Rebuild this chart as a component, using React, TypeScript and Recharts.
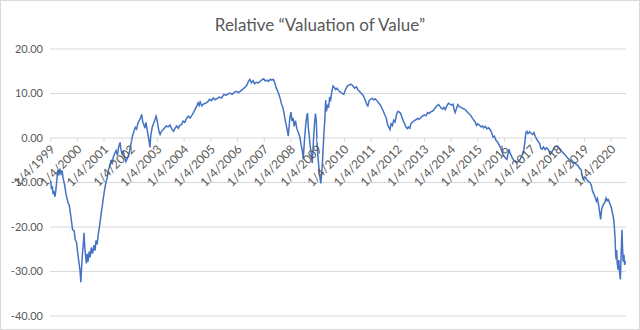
import { LineChart, Line, XAxis, YAxis, CartesianGrid } from "recharts";

const chartTitle = "Relative “Valuation of Value”";

const tickYears = [
  1999, 2000, 2001, 2002, 2003, 2004, 2005, 2006, 2007, 2008, 2009,
  2010, 2011, 2012, 2013, 2014, 2015, 2016, 2017, 2018, 2019, 2020,
];
const yTicks = [-40, -30, -20, -10, 0, 10, 20];

// [year fraction, value]
const dotcom = [
  [1999.0, -9.7], [1999.03, -11.5], [1999.06, -10.8], [1999.09, -12.6], [1999.12, -11.9],
  [1999.16, -13.2], [1999.19, -12.0], [1999.23, -9.5], [1999.27, -7.2], [1999.31, -8.4],
  [1999.35, -6.9], [1999.39, -8.0], [1999.43, -7.3], [1999.46, -8.8], [1999.52, -10.5],
  [1999.58, -12.8], [1999.65, -14.5], [1999.7, -15.2], [1999.76, -17.8], [1999.82, -20.6],
  [1999.88, -20.9], [1999.92, -22.8], [1999.97, -23.5], [2000.02, -26.2], [2000.06, -28.0],
  [2000.1, -29.8], [2000.13, -32.4], [2000.16, -29.0], [2000.19, -26.0], [2000.22, -24.0],
  [2000.25, -21.3], [2000.28, -24.8], [2000.31, -26.6], [2000.34, -28.2], [2000.37, -26.0],
  [2000.4, -27.8], [2000.44, -25.5], [2000.48, -26.8], [2000.52, -24.6], [2000.57, -26.0],
  [2000.62, -24.1], [2000.66, -25.3], [2000.7, -23.0], [2000.74, -23.9], [2000.78, -21.8],
  [2000.82, -20.2], [2000.86, -18.5], [2000.9, -16.6], [2000.94, -15.0], [2000.98, -13.2],
  [2001.02, -11.6], [2001.07, -10.0], [2001.12, -8.8], [2001.17, -7.0], [2001.22, -6.2],
  [2001.26, -4.9], [2001.3, -5.8], [2001.35, -4.2], [2001.4, -3.5], [2001.45, -2.8],
  [2001.5, -3.9], [2001.55, -1.9], [2001.6, -1.0], [2001.63, -2.5], [2001.67, -3.4],
  [2001.72, -3.0], [2001.77, -4.3], [2001.82, -5.3], [2001.88, -4.5], [2001.93, -3.6],
  [2001.97, -2.5],
];

const recovery = [
  [2002.02, -1.0], [2002.07, 0.6], [2002.12, 1.5], [2002.17, 2.4], [2002.22, 2.0],
  [2002.27, 3.4], [2002.32, 3.9], [2002.37, 4.6], [2002.41, 5.3], [2002.45, 3.6],
  [2002.49, 3.0], [2002.53, 2.2], [2002.57, 3.5], [2002.61, 2.0], [2002.65, 0.6],
  [2002.69, -0.8], [2002.72, -2.1], [2002.75, 0.6], [2002.8, 2.3], [2002.85, 3.2],
  [2002.9, 4.0], [2002.95, 4.9], [2002.98, 4.2], [2003.02, 2.8], [2003.06, 1.4],
  [2003.1, 0.8], [2003.15, 1.5], [2003.2, 1.8], [2003.27, 2.3], [2003.33, 2.7],
  [2003.4, 2.5], [2003.47, 2.9], [2003.53, 2.1], [2003.6, 1.5], [2003.67, 2.3],
  [2003.72, 2.7], [2003.78, 2.2], [2003.84, 2.9], [2003.9, 3.0], [2003.96, 3.8],
  [2004.02, 3.5], [2004.09, 4.4], [2004.15, 4.9], [2004.22, 4.5], [2004.3, 5.2],
  [2004.36, 5.8], [2004.42, 6.6], [2004.47, 7.1], [2004.52, 7.9], [2004.56, 7.3],
  [2004.6, 8.1], [2004.66, 7.2], [2004.72, 7.6], [2004.8, 7.8], [2004.88, 8.1],
  [2004.95, 8.7], [2005.02, 8.4], [2005.09, 9.0], [2005.16, 8.6], [2005.24, 8.9],
  [2005.32, 9.2], [2005.4, 9.0], [2005.49, 9.8], [2005.56, 9.6], [2005.64, 9.9],
  [2005.72, 10.1], [2005.8, 9.8], [2005.88, 10.3], [2005.96, 10.5], [2006.04, 10.2],
  [2006.12, 10.6], [2006.2, 11.0], [2006.28, 11.4], [2006.34, 11.8], [2006.4, 12.6],
  [2006.46, 13.2], [2006.52, 12.4], [2006.58, 12.9], [2006.64, 12.2], [2006.7, 12.5],
  [2006.78, 12.4], [2006.86, 12.8], [2006.92, 13.1], [2006.98, 13.3], [2007.04, 12.8],
  [2007.1, 13.0], [2007.16, 12.7], [2007.22, 13.2], [2007.28, 13.0], [2007.34, 13.2],
];

const crisis = [
  [2007.4, 12.3], [2007.45, 11.2], [2007.5, 10.6], [2007.55, 9.8], [2007.6, 8.8],
  [2007.65, 7.6], [2007.7, 6.8], [2007.74, 5.6], [2007.78, 4.2], [2007.82, 3.0],
  [2007.86, 1.8], [2007.9, 0.4], [2007.93, 2.5], [2007.96, 4.6], [2008.0, 5.8],
  [2008.04, 3.8], [2008.08, 4.5], [2008.12, 2.6], [2008.17, 3.9], [2008.22, 2.1],
  [2008.28, 1.2], [2008.33, 0.3], [2008.38, -1.5], [2008.43, -3.0], [2008.46, -4.8],
  [2008.5, -1.0], [2008.55, 2.8], [2008.59, 4.8], [2008.62, 5.6], [2008.65, 2.4],
  [2008.69, 0.2], [2008.72, -1.8], [2008.76, -3.5], [2008.8, -5.6], [2008.84, -1.0],
  [2008.88, 3.0], [2008.92, 5.5], [2008.95, 3.8], [2008.98, -1.5], [2009.02, -4.8],
  [2009.06, -7.5], [2009.09, -9.0], [2009.12, -10.2], [2009.15, -8.0], [2009.18, -5.5],
  [2009.21, -2.0], [2009.24, 1.5], [2009.27, 4.2], [2009.3, 8.5], [2009.33, 6.0],
  [2009.37, 7.5], [2009.41, 6.8], [2009.45, 9.2], [2009.49, 8.6], [2009.53, 10.4],
  [2009.58, 11.7], [2009.63, 11.3], [2009.68, 10.9], [2009.73, 11.2], [2009.79, 10.6],
  [2009.86, 10.3], [2009.92, 10.0], [2009.98, 9.8],
];

const postCrisis = [
  [2010.05, 11.0], [2010.12, 11.7], [2010.19, 11.9], [2010.25, 12.1], [2010.31, 11.8],
  [2010.38, 11.2], [2010.45, 11.5], [2010.52, 10.8], [2010.58, 10.4], [2010.64, 10.0],
  [2010.7, 9.6], [2010.75, 9.0], [2010.8, 8.2], [2010.85, 7.4], [2010.88, 7.2],
  [2010.93, 8.4], [2010.98, 8.7], [2011.04, 8.9], [2011.1, 8.6], [2011.16, 8.8],
  [2011.22, 8.4], [2011.28, 7.9], [2011.34, 7.5], [2011.4, 6.8], [2011.46, 6.0],
  [2011.52, 5.1], [2011.57, 4.5], [2011.62, 3.0], [2011.67, 2.4], [2011.71, 1.9],
  [2011.75, 3.2], [2011.8, 2.8], [2011.85, 4.0], [2011.9, 3.6], [2011.96, 5.4],
  [2012.01, 6.0], [2012.06, 5.8], [2012.11, 5.5], [2012.16, 4.6], [2012.21, 3.8],
  [2012.26, 3.2], [2012.31, 2.4], [2012.36, 2.1], [2012.4, 2.5], [2012.45, 2.2],
  [2012.5, 3.3], [2012.56, 3.6], [2012.62, 3.9], [2012.68, 4.1], [2012.74, 4.4],
  [2012.8, 4.2], [2012.86, 4.6], [2012.93, 4.9], [2013.0, 5.2], [2013.06, 5.0],
  [2013.12, 5.7], [2013.18, 5.5], [2013.24, 5.9], [2013.3, 6.0], [2013.36, 6.4],
  [2013.42, 6.9], [2013.48, 7.3], [2013.53, 7.5], [2013.58, 7.1], [2013.63, 6.7],
  [2013.68, 6.5], [2013.73, 6.9], [2013.78, 6.4], [2013.84, 7.2], [2013.9, 7.8],
  [2013.96, 7.6], [2014.02, 7.4], [2014.07, 7.6], [2014.12, 6.3], [2014.15, 5.7],
  [2014.2, 6.6], [2014.25, 7.5], [2014.3, 7.1], [2014.36, 6.9], [2014.42, 6.7],
  [2014.48, 6.5], [2014.53, 6.4], [2014.58, 6.0], [2014.64, 5.6], [2014.7, 5.3],
  [2014.75, 4.9], [2014.8, 4.4], [2014.85, 4.0], [2014.9, 3.6], [2014.95, 2.8],
  [2015.0, 3.2], [2015.06, 2.9], [2015.12, 2.5], [2015.18, 2.7], [2015.22, 2.3],
  [2015.28, 2.6], [2015.34, 2.1], [2015.4, 2.3], [2015.46, 1.9], [2015.52, 1.2],
  [2015.57, 0.2], [2015.62, 0.4], [2015.68, -0.5], [2015.74, -0.9], [2015.8, -1.6],
  [2015.85, -2.2], [2015.9, -3.0], [2015.95, -3.8],
];

const recent = [
  [2016.0, -4.2], [2016.05, -4.6], [2016.09, -4.8], [2016.13, -3.6], [2016.17, -2.5],
  [2016.21, -3.4], [2016.25, -3.9], [2016.3, -4.6], [2016.35, -5.0], [2016.4, -5.3],
  [2016.46, -5.6], [2016.52, -5.2], [2016.58, -4.9], [2016.63, -4.2], [2016.68, -3.5],
  [2016.72, -2.8], [2016.76, -1.0], [2016.8, 1.2], [2016.84, 1.5], [2016.88, 1.0],
  [2016.94, 1.4], [2017.0, 1.0], [2017.05, 0.8], [2017.1, 1.2], [2017.15, 0.4],
  [2017.2, -0.2], [2017.26, -0.8], [2017.31, -1.2], [2017.36, -2.3], [2017.41, -2.5],
  [2017.46, -2.0], [2017.52, -2.6], [2017.57, -2.2], [2017.62, -2.4], [2017.67, -3.0],
  [2017.72, -3.7], [2017.77, -3.2], [2017.82, -2.6], [2017.88, -2.1], [2017.94, -1.8],
  [2017.99, -1.9], [2018.04, -2.2], [2018.1, -2.8], [2018.16, -3.1], [2018.22, -3.5],
  [2018.28, -3.9], [2018.34, -4.3], [2018.4, -4.7], [2018.46, -5.1], [2018.52, -5.3],
  [2018.58, -5.8], [2018.64, -5.6], [2018.7, -6.0], [2018.76, -6.3], [2018.82, -6.9],
  [2018.87, -7.1], [2018.91, -8.5], [2018.95, -9.3], [2019.0, -8.8], [2019.05, -9.0],
  [2019.1, -9.5], [2019.15, -9.8], [2019.2, -10.0], [2019.25, -10.6], [2019.3, -12.0],
  [2019.35, -12.6], [2019.4, -13.4], [2019.44, -14.2], [2019.48, -13.6], [2019.52, -14.9],
  [2019.56, -16.5], [2019.6, -18.3], [2019.64, -16.0], [2019.68, -15.2], [2019.72, -14.8],
  [2019.76, -14.4], [2019.8, -13.5], [2019.84, -14.1], [2019.88, -13.8], [2019.92, -14.3],
  [2019.96, -15.0], [2020.0, -15.6], [2020.04, -16.8], [2020.08, -17.9], [2020.11, -19.6],
  [2020.14, -22.5], [2020.16, -25.8], [2020.18, -27.3], [2020.2, -25.2], [2020.22, -28.0],
  [2020.25, -29.6], [2020.28, -27.4], [2020.31, -30.2], [2020.34, -31.8], [2020.36, -27.5],
  [2020.38, -24.0], [2020.4, -20.6], [2020.42, -24.5], [2020.44, -27.8], [2020.47, -26.2],
  [2020.5, -28.5], [2020.53, -27.6],
];

const W = 638;
const H = 328;
const margin = { top: 48, right: 13, bottom: 12, left: 0 };
const Y_MIN = -40;
const Y_MAX = 20;
const plotH = H - margin.top - margin.bottom - 1;
const zeroY = margin.top + (plotH * Y_MAX) / (Y_MAX - Y_MIN);

const data = [...dotcom, ...recovery, ...crisis, ...postCrisis, ...recent].map(
  ([t, v]) => ({ t, v })
);

const DateTick = ({ x, payload }: any) => {
  const px = x + 5;
  const py = zeroY + 12;
  return (
    <g>
      <line x1={x} y1={zeroY} x2={x} y2={zeroY + 4} stroke="#d9d9d9" />
      <text
        x={px}
        y={py}
        textAnchor="end"
        fill="#595959"
        fontSize={12}
        fontFamily="Lato"
        transform={`rotate(-45, ${px}, ${py})`}
      >
        {`1/4/${payload.value}`}
      </text>
    </g>
  );
};

export default function App() {
  return (
    <div
      style={{
        position: "absolute",
        left: 0,
        top: 0,
        width: W,
        height: H,
        border: "1px solid #d9d9d9",
        background: "#fff",
        fontFamily: "Lato",
      }}
    >
      <div
        style={{
          position: "absolute",
          top: 13,
          width: "100%",
          textAlign: "center",
          fontSize: 17,
          color: "#595959",
        }}
      >
        {chartTitle}
      </div>
      <LineChart width={W} height={H} data={data} margin={margin}>
        <CartesianGrid vertical={false} stroke="#d9d9d9" />
        <XAxis
          dataKey="t"
          type="number"
          domain={[1998.975, 2020.55]}
          ticks={tickYears}
          height={1}
          axisLine={false}
          tickLine={false}
          tick={<DateTick />}
          interval={0}
          allowDataOverflow
        />
        <YAxis
          type="number"
          domain={[Y_MIN, Y_MAX]}
          ticks={yTicks}
          width={49}
          axisLine={false}
          tickLine={false}
          tickSize={0}
          tickMargin={7}
          tickFormatter={(v: number) => v.toFixed(2)}
          tick={{ fill: "#595959", fontSize: 11, fontFamily: "Lato" }}
        />
        <Line
          dataKey="v"
          type="linear"
          stroke="#4472C4"
          strokeWidth={1.5}
          dot={false}
          isAnimationActive={false}
        />
      </LineChart>
    </div>
  );
}
